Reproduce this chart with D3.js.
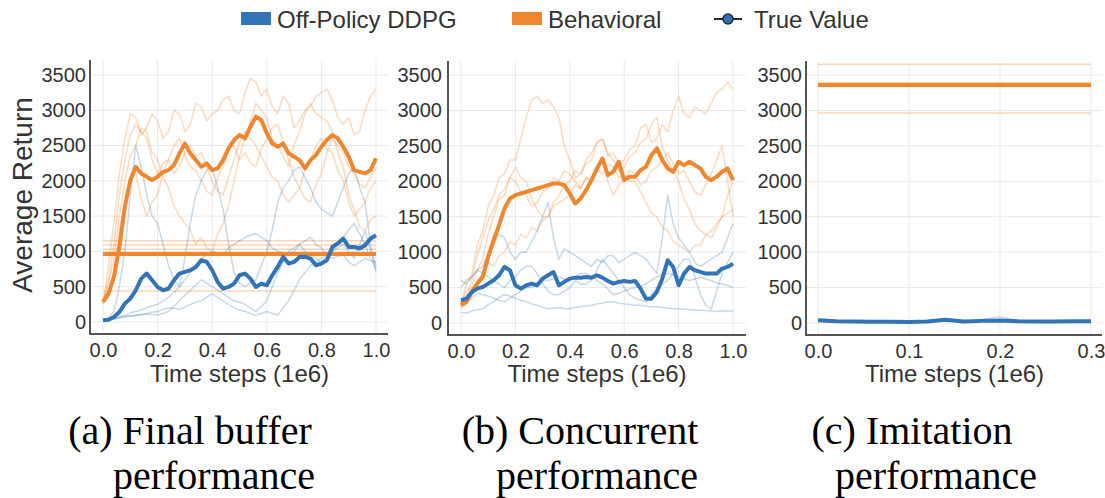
<!DOCTYPE html>
<html>
<head>
<meta charset="utf-8">
<script src="https://cdn.jsdelivr.net/npm/d3@7"></script>
<style>
body { margin: 0; background: #fff; }
svg text { font-family: "Liberation Sans", Arial, sans-serif; }
</style>
</head>
<body>
<script>
// time steps (1e6)
var tFine = [0, 0.02, 0.04, 0.06, 0.08, 0.1, 0.12, 0.14, 0.16, 0.18, 0.2, 0.22, 0.24, 0.26, 0.28, 0.3, 0.32, 0.34, 0.36, 0.38, 0.4,
  0.42, 0.44, 0.46, 0.48, 0.5, 0.52, 0.54, 0.56, 0.58, 0.6, 0.62, 0.64, 0.66, 0.68, 0.7, 0.72, 0.74, 0.76, 0.78, 0.8,
  0.82, 0.84, 0.86, 0.88, 0.9, 0.92, 0.94, 0.96, 0.98, 1.0];
var tImit = [0, 0.02, 0.04, 0.06, 0.08, 0.1, 0.12, 0.14, 0.16, 0.18, 0.2, 0.22, 0.24, 0.26, 0.28, 0.3];

var yTicks = [0, 500, 1000, 1500, 2000, 2500, 3000, 3500];
var xTicksAB = [0, 0.2, 0.4, 0.6, 0.8, 1.0];
var xTicksC = [0, 0.1, 0.2, 0.3];

var legendNames = ["Off-Policy DDPG", "Behavioral", "True Value"];
var captions = [["(a) Final buffer", "performance"], ["(b) Concurrent", "performance"], ["(c) Imitation", "performance"]];

// (a) final buffer: mean curves
var aBehav = [284, 400, 640, 1064, 1632, 2010, 2200, 2105, 2058, 2010, 2058, 2128, 2152, 2223, 2389, 2530, 2389, 2294, 2200, 2247, 2152,
  2176, 2294, 2460, 2578, 2649, 2602, 2767, 2909, 2862, 2673, 2530, 2483, 2530, 2389, 2342, 2294, 2176, 2294, 2365, 2483,
  2578, 2649, 2602, 2483, 2342, 2152, 2128, 2105, 2152, 2318];
var aDDPG = [24, 33, 71, 142, 260, 331, 450, 615, 686, 591, 497, 450, 473, 591, 686, 710, 733, 780, 875, 851, 733,
  568, 473, 497, 544, 662, 686, 615, 497, 544, 520, 662, 780, 922, 828, 851, 922, 922, 899, 804, 828,
  875, 1064, 1112, 1183, 1064, 1064, 1041, 1088, 1183, 1230];
// (a) single runs
var aBehavRuns = [
  [250, 800, 1400, 2100, 2600, 2950, 2900, 2650, 2750, 2950, 2850, 2600, 2700, 3000, 2950, 2700, 2800, 3100, 3050, 2850,
   2950, 3000, 3150, 3200, 3000, 2950, 3250, 3450, 3400, 3200, 3300, 3050, 2950, 3200, 3100, 2750, 2850, 3000, 3050, 3200,
   3250, 3300, 3150, 2900, 2800, 2900, 2650, 2700, 3000, 3200, 3300],
  [300, 550, 900, 1500, 2000, 2350, 2500, 2750, 2700, 2400, 2300, 2050, 1900, 1650, 1500, 1400, 1300, 1100, 1200, 1050,
   1000, 1250, 1400, 1650, 2000, 2350, 2600, 2850, 3100, 3000, 2900, 2600, 2500, 2350, 2200, 2500, 2700, 2950, 3100, 2950,
   2900, 2850, 2700, 2400, 2200, 1800, 1600, 1350, 1300, 1450, 1500],
  [280, 450, 700, 1300, 1700, 2000, 2100, 1750, 1500, 1700, 1800, 2100, 2300, 2500, 2600, 2350, 2200, 2150, 2000, 1850,
   1800, 2050, 2200, 2450, 2500, 2300, 2400, 2250, 2200, 2450, 2600, 2750, 2800, 2550, 2300, 2050, 1900, 1750, 1700, 1950,
   2100, 2400, 2600, 2500, 2400, 2200, 2100, 1950, 1900, 2050, 2200],
  [260, 600, 1100, 1800, 2300, 2650, 2800, 2700, 2600, 2300, 2100, 2250, 2300, 2100, 2200, 2400, 2500, 2350, 2400, 2200,
   2000, 1850, 1800, 2050, 2300, 2550, 2700, 2600, 2500, 2350, 2200, 2050, 2000, 1800, 1700, 1800, 1900, 2150, 2300, 2500,
   2600, 2450, 2400, 2150, 2000, 1700, 1500, 1600, 1700, 1900, 2000]
];
var aDDPGRuns = [
  [20, 60, 150, 500, 1000, 1800, 2500, 2200, 1800, 1500, 1400, 1100, 800, 600, 500, 900, 1400, 1800, 2000, 2150,
   2200, 1900, 1600, 1100, 700, 550, 500, 550, 600, 800, 1000, 1300, 1700, 1900, 2000, 2150, 2200, 2050, 1900, 1700,
   1600, 1550, 1500, 1700, 1900, 2100, 2200, 1900, 1700, 1100, 700],
  [10, 30, 60, 80, 100, 130, 150, 170, 200, 230, 250, 300, 350, 420, 500, 600, 700, 800, 900, 950,
   1000, 980, 950, 1050, 1100, 1150, 1200, 1230, 1250, 1200, 1150, 1050, 1000, 980, 950, 1000, 1100, 1150, 1200, 1100,
   1050, 950, 900, 930, 950, 850, 800, 850, 900, 870, 850],
  [15, 25, 40, 60, 80, 90, 100, 110, 120, 140, 150, 180, 200, 190, 180, 210, 250, 280, 300, 350,
   400, 350, 300, 250, 200, 170, 150, 120, 100, 120, 150, 120, 100, 200, 300, 450, 600, 700, 800, 850,
   900, 950, 1000, 1050, 1100, 1000, 900, 1100, 1300, 1000, 800],
  [25, 35, 50, 60, 70, 80, 90, 100, 110, 105, 100, 120, 150, 220, 300, 380, 450, 520, 600, 550,
   500, 450, 400, 350, 300, 280, 250, 200, 150, 220, 300, 500, 700, 850, 1000, 1050, 1100, 1000, 950, 900,
   850, 920, 1000, 1100, 1200, 1300, 1400, 1250, 1100, 900, 750]
];
var aLevel = 965;
var aLevelRuns = [1150, 1090, 1030, 440];

// (b) concurrent
var bBehav = [250, 297, 438, 556, 650, 933, 1168, 1380, 1616, 1757, 1804, 1828, 1851, 1875, 1898, 1922, 1945, 1969, 1969, 1945, 1828,
  1686, 1757, 1875, 2016, 2181, 2322, 2087, 2134, 2275, 2016, 2063, 2063, 2157, 2204, 2369, 2464, 2299, 2181, 2134, 2275,
  2228, 2275, 2228, 2181, 2063, 2016, 2063, 2134, 2181, 2016];
var bDDPG = [320, 344, 438, 485, 509, 556, 603, 674, 791, 744, 532, 485, 532, 556, 532, 626, 674, 720, 532, 580, 626,
  640, 640, 650, 640, 674, 640, 593, 556, 580, 593, 580, 593, 485, 344, 344, 438, 626, 885, 791, 532,
  697, 791, 744, 721, 697, 697, 697, 768, 791, 838];
var bBehavRuns = [
  [250, 550, 700, 1100, 1300, 1650, 1800, 2050, 2100, 2300, 2300, 2600, 2900, 3150, 3200, 3100, 3150, 3050, 2900, 2500,
   2300, 2050, 2100, 2250, 2300, 2550, 2600, 2350, 2400, 2250, 2300, 2450, 2500, 2750, 2800, 2550, 2600, 2800, 2700, 3000,
   3200, 2950, 2900, 3050, 3000, 2950, 3100, 3250, 3300, 3400, 3300],
  [280, 450, 500, 750, 900, 1250, 1500, 1750, 1800, 2050, 2200, 2050, 2000, 1750, 1600, 1500, 1500, 1700, 1800, 1950,
   2000, 2150, 2100, 2300, 2400, 2550, 2600, 2400, 2300, 2150, 2200, 2350, 2400, 2550, 2600, 2800, 2900, 2500, 2300, 2150,
   2000, 1750, 1600, 1400, 1300, 1250, 1200, 1350, 1500, 1550, 1600],
  [300, 380, 400, 600, 700, 850, 800, 950, 1000, 1150, 1100, 1250, 1200, 1350, 1300, 1450, 1500, 1650, 1700, 1750,
   1800, 1950, 1900, 2050, 2000, 2150, 2100, 2250, 2200, 2050, 2100, 2000, 2000, 1850, 1700, 1550, 1500, 1350, 1300, 1150,
   1100, 1050, 1000, 1100, 1100, 1250, 1300, 1400, 1500, 1800, 2000],
  [200, 350, 600, 950, 1200, 1450, 1600, 1800, 1900, 2050, 2000, 1850, 1800, 1650, 1700, 1850, 1900, 2050, 2000, 2150,
   2100, 2000, 1900, 2050, 2000, 2200, 2300, 2000, 1800, 1950, 2000, 2150, 2100, 1950, 2000, 2150, 2200, 2300, 2400, 2250,
   2100, 2150, 2000, 1850, 1800, 1950, 2100, 2300, 2500, 2000, 1500]
];
var bDDPGRuns = [
  [500, 600, 650, 750, 800, 1000, 1100, 1250, 1200, 1000, 900, 1000, 1000, 1150, 1300, 1500, 1700, 1200, 900, 1050,
   1000, 950, 900, 850, 800, 900, 850, 950, 950, 850, 900, 950, 1000, 950, 900, 800, 700, 1200, 1800, 1400,
   1200, 1100, 1000, 850, 800, 850, 900, 950, 1000, 1200, 1400],
  [150, 140, 170, 190, 200, 260, 300, 360, 400, 380, 350, 320, 300, 270, 250, 220, 200, 210, 220, 200,
   200, 220, 230, 240, 250, 270, 280, 300, 300, 280, 270, 260, 250, 250, 240, 230, 230, 220, 210, 200,
   200, 190, 190, 180, 180, 175, 170, 165, 170, 170, 170],
  [600, 550, 650, 750, 700, 650, 600, 550, 500, 600, 650, 750, 800, 800, 700, 550, 450, 400, 400, 450,
   500, 600, 550, 550, 600, 750, 900, 800, 700, 600, 500, 400, 350, 320, 300, 400, 500, 550, 600, 700,
   800, 900, 900, 650, 400, 250, 200, 450, 700, 850, 1000],
  [300, 320, 350, 420, 400, 380, 350, 320, 300, 350, 400, 450, 500, 500, 550, 600, 600, 620, 650, 620,
   600, 650, 700, 700, 650, 600, 550, 480, 400, 420, 450, 480, 500, 520, 550, 600, 650, 680, 700, 680,
   650, 620, 600, 620, 650, 620, 600, 570, 550, 530, 500]
];

// (c) imitation
var cDDPG = [40, 25, 20, 18, 17, 15, 20, 45, 20, 30, 35, 25, 22, 22, 24, 24];
var cDDPGRuns = [[45, 30, 25, 20, 20, 18, 25, 60, 25, 50, 90, 30, 25, 24, 25, 25]];
var cLevel = 3360;
var cLevelRuns = [3650, 3390, 3340, 2965];

var w = 1105, h = 498;
var blue = "#3274b5", orange = "#f0862e";

var svg = d3.select("body").append("svg")
  .attr("width", w)
  .attr("height", h);

function panel(p) {
  var x = d3.scaleLinear().domain([0, p.xMax]).range([p.x0, p.x1]);
  var y = d3.scaleLinear().domain([0, 3500]).range([p.y0, p.y1]);
  var g = svg.append("g");

  // grid
  g.selectAll(".vgrid").data(p.xTicks).enter().append("line")
    .attr("x1", function(d) { return x(d); })
    .attr("x2", function(d) { return x(d); })
    .attr("y1", p.top)
    .attr("y2", p.bottom)
    .style("stroke", "#e9e9e9")
    .style("stroke-width", 1);
  g.selectAll(".hgrid").data(yTicks).enter().append("line")
    .attr("x1", p.left)
    .attr("x2", p.right)
    .attr("y1", function(d) { return y(d); })
    .attr("y2", function(d) { return y(d); })
    .style("stroke", "#e9e9e9")
    .style("stroke-width", 1);

  var line = d3.line()
    .x(function(d) { return x(d[0]); })
    .y(function(d) { return y(d[1]); });

  function curve(t, vals, color, width, op) {
    g.append("path")
      .datum(vals.map(function(v, i) { return [t[i], v]; }))
      .attr("d", line)
      .style("fill", "none")
      .style("stroke", color)
      .style("stroke-width", width)
      .style("stroke-opacity", op)
      .style("stroke-linejoin", "round");
  }
  function level(v, color, width, op) {
    curve([0, p.xMax], [v, v], color, width, op);
  }

  (p.levelRuns || []).forEach(function(v) { level(v, orange, 1.5, 0.35); });
  (p.ddpgRuns || []).forEach(function(r) { curve(p.t, r, blue, 1.5, 0.28); });
  (p.behavRuns || []).forEach(function(r) { curve(p.t, r, orange, 1.5, 0.3); });
  if (p.level != null) level(p.level, orange, 4, 1);
  if (p.behav) curve(p.t, p.behav, orange, 4, 1);
  curve(p.t, p.ddpg, blue, 4, 1);

  // spines
  g.append("line")
    .attr("x1", p.left).attr("x2", p.left)
    .attr("y1", p.top).attr("y2", p.bottom)
    .style("stroke", "#555").style("stroke-width", 2);
  g.append("line")
    .attr("x1", p.left - 1).attr("x2", p.right)
    .attr("y1", p.bottom).attr("y2", p.bottom)
    .style("stroke", "#555").style("stroke-width", 2);

  var xa = g.append("g")
    .attr("transform", "translate(0," + p.bottom + ")")
    .call(d3.axisBottom(x).tickValues(p.xTicks).tickFormat(d3.format(".1f")).tickSize(0).tickPadding(9));
  var ya = g.append("g")
    .attr("transform", "translate(" + p.left + ",0)")
    .call(d3.axisLeft(y).tickValues(yTicks).tickFormat(d3.format("d")).tickSize(0).tickPadding(p.yPad));
  [xa, ya].forEach(function(a) {
    a.select(".domain").remove();
    a.selectAll("text")
      .style("font-family", "'Liberation Sans', Arial, sans-serif")
      .style("font-size", "20px")
      .style("fill", "#333");
  });

  g.append("text")
    .attr("x", (p.x0 + p.x1) / 2)
    .attr("y", 382)
    .attr("text-anchor", "middle")
    .style("font-size", "24px")
    .style("fill", "#333")
    .text("Time steps (1e6)");
}

panel({ left: 90, right: 388, top: 60, bottom: 334, x0: 103, x1: 376, y0: 322, y1: 75, yPad: 4,
  xMax: 1, xTicks: xTicksAB, t: tFine,
  behav: aBehav, ddpg: aDDPG, behavRuns: aBehavRuns, ddpgRuns: aDDPGRuns, level: aLevel, levelRuns: aLevelRuns });
panel({ left: 448, right: 746, top: 61, bottom: 335, x0: 461, x1: 733, y0: 323, y1: 75, yPad: 6,
  xMax: 1, xTicks: xTicksAB, t: tFine,
  behav: bBehav, ddpg: bDDPG, behavRuns: bBehavRuns, ddpgRuns: bDDPGRuns });
panel({ left: 806, right: 1102, top: 61, bottom: 335, x0: 818, x1: 1091, y0: 323, y1: 75, yPad: 4,
  xMax: 0.3, xTicks: xTicksC, t: tImit,
  ddpg: cDDPG, ddpgRuns: cDDPGRuns, level: cLevel, levelRuns: cLevelRuns });

// y label
svg.append("text")
  .attr("transform", "translate(32,195) rotate(-90)")
  .attr("text-anchor", "middle")
  .style("font-size", "28px")
  .style("fill", "#333")
  .text("Average Return");

// legend
var leg = svg.append("g");
leg.append("rect").attr("x", 241).attr("y", 12).attr("width", 30).attr("height", 13).style("fill", blue);
leg.append("text").attr("x", 277).attr("y", 28).style("font-size", "24px").style("fill", "#333").text(legendNames[0]);
leg.append("rect").attr("x", 512).attr("y", 12).attr("width", 30).attr("height", 13).style("fill", orange);
leg.append("text").attr("x", 548).attr("y", 28).style("font-size", "24px").style("fill", "#333").text(legendNames[1]);
leg.append("line").attr("x1", 714).attr("x2", 742).attr("y1", 19).attr("y2", 19)
  .style("stroke", "#1e2a3a").style("stroke-width", 2);
leg.append("circle").attr("cx", 728).attr("cy", 19).attr("r", 5)
  .style("fill", blue).style("stroke", "#1e2a3a").style("stroke-width", 1.5);
leg.append("text").attr("x", 754).attr("y", 28).style("font-size", "24px").style("fill", "#333").text(legendNames[2]);

// captions (centred per line)
var capCentres = [[190, 214], [580, 597], [912, 936]];
captions.forEach(function(c, i) {
  c.forEach(function(s, j) {
    svg.append("text")
      .attr("x", capCentres[i][j])
      .attr("y", j === 0 ? 444 : 489)
      .attr("text-anchor", "middle")
      .style("font-family", "'Liberation Serif', 'Times New Roman', serif")
      .style("font-size", "40px")
      .style("fill", "#000")
      .text(s);
  });
});
</script>
</body>
</html>
